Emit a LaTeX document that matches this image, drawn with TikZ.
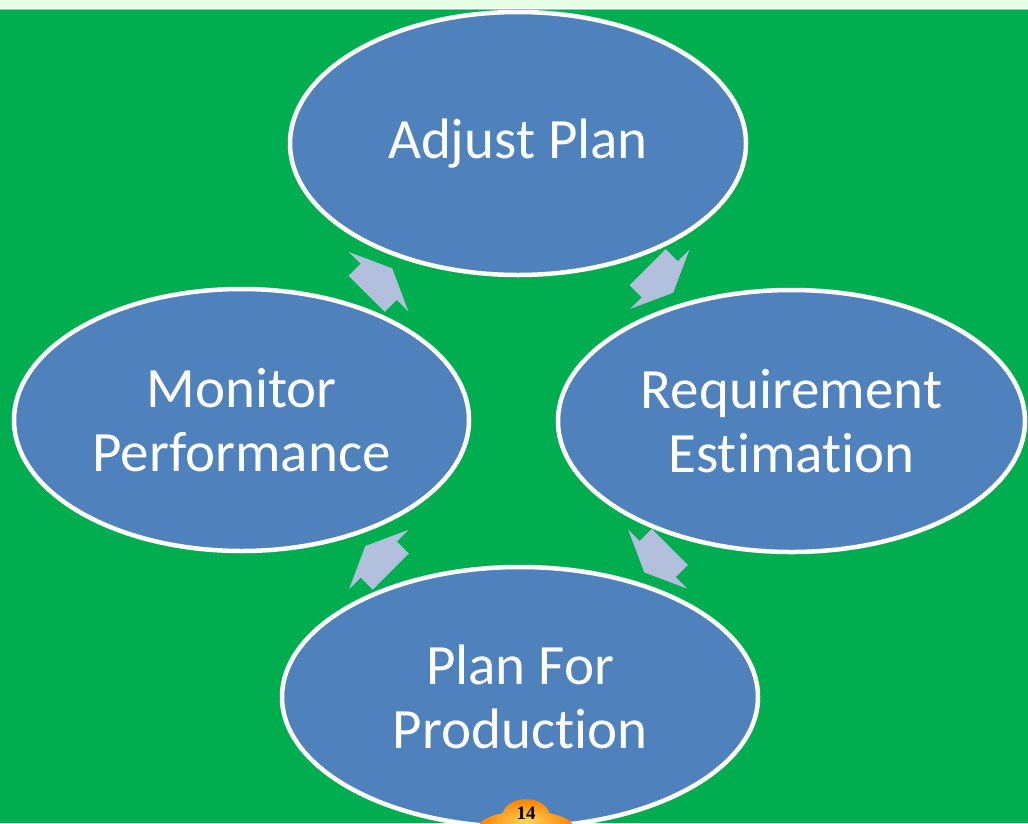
\documentclass[tikz,border=0pt]{standalone}
\usepackage{fontspec}
\setmainfont{Carlito}[RawFeature={-liga;-clig}]
\newfontfamily\badgefont{Liberation Serif}
\usetikzlibrary{shapes.geometric,calc}
\definecolor{bggreen}{RGB}{0,173,79}
\definecolor{mint}{RGB}{229,255,229}
\definecolor{seamgreen}{RGB}{120,214,150}
\definecolor{stageblue}{RGB}{79,129,189}
\definecolor{arrowblue}{RGB}{178,191,221}
\definecolor{badgeorange}{RGB}{255,128,0}
\definecolor{badgeyellow}{RGB}{255,214,90}

\begin{document}
\begin{tikzpicture}[x=1pt,y=-1pt,
  stage/.style={ellipse, draw=white, line width=4.5pt, fill=stageblue,
    text=white, align=center, inner sep=0pt,
    font=\fontsize{57}{64}\selectfont},
  cyclearrow/.pic={\fill[arrowblue] (-17,-25.5) -- (0,-25.5) -- (0,-42)
    -- (19,0) -- (0,42) -- (0,25.5) -- (-17,25.5) -- cycle;}]
\useasboundingbox (0,0) rectangle (1028,823);
\clip (0,0) rectangle (1028,823);

% background
\fill[bggreen] (0,0) rectangle (1028,823);

% the four stages of the cycle
\node[stage, minimum width=456pt, minimum height=263pt] (adj) at (518,143.5) {Adjust Plan};
\node[stage, minimum width=467pt, minimum height=262pt] (req) at (791.5,421) {Requirement\\Estimation};
\node[stage, minimum width=476pt, minimum height=260pt] (prod) at (520,697) {Plan For\\Production};
\node[stage, minimum width=455pt, minimum height=262pt] (mon) at (241.5,420) {Monitor\\Performance};

% block arrows between the stages, running clockwise
\path ($(adj)!0.5!(req)+(5,-3)$) pic[rotate=-45] {cyclearrow};
\path ($(req)!0.5!(prod)+(2,0)$) pic[rotate=-135] {cyclearrow};
\path ($(prod)!0.5!(mon)+(-2,1)$) pic[rotate=135] {cyclearrow};
\path ($(mon)!0.5!(adj)+(-1,0)$) pic[rotate=45] {cyclearrow};

% top strip
\fill[mint] (0,0) rectangle (1028,8);
\fill[white] (0,8) rectangle (1028,9);
\fill[seamgreen] (0,9) rectangle (1028,10);

% page badge
\shade[inner color=badgeyellow, outer color=badgeorange]
  (526,828) ellipse [x radius=48pt, y radius=17pt]
  (526,817) ellipse [x radius=24pt, y radius=18pt];
\node[font=\badgefont\bfseries\fontsize{19}{19}\selectfont, anchor=base, inner sep=0pt] (pg) at (526,819) {14};
\end{tikzpicture}
\end{document}
